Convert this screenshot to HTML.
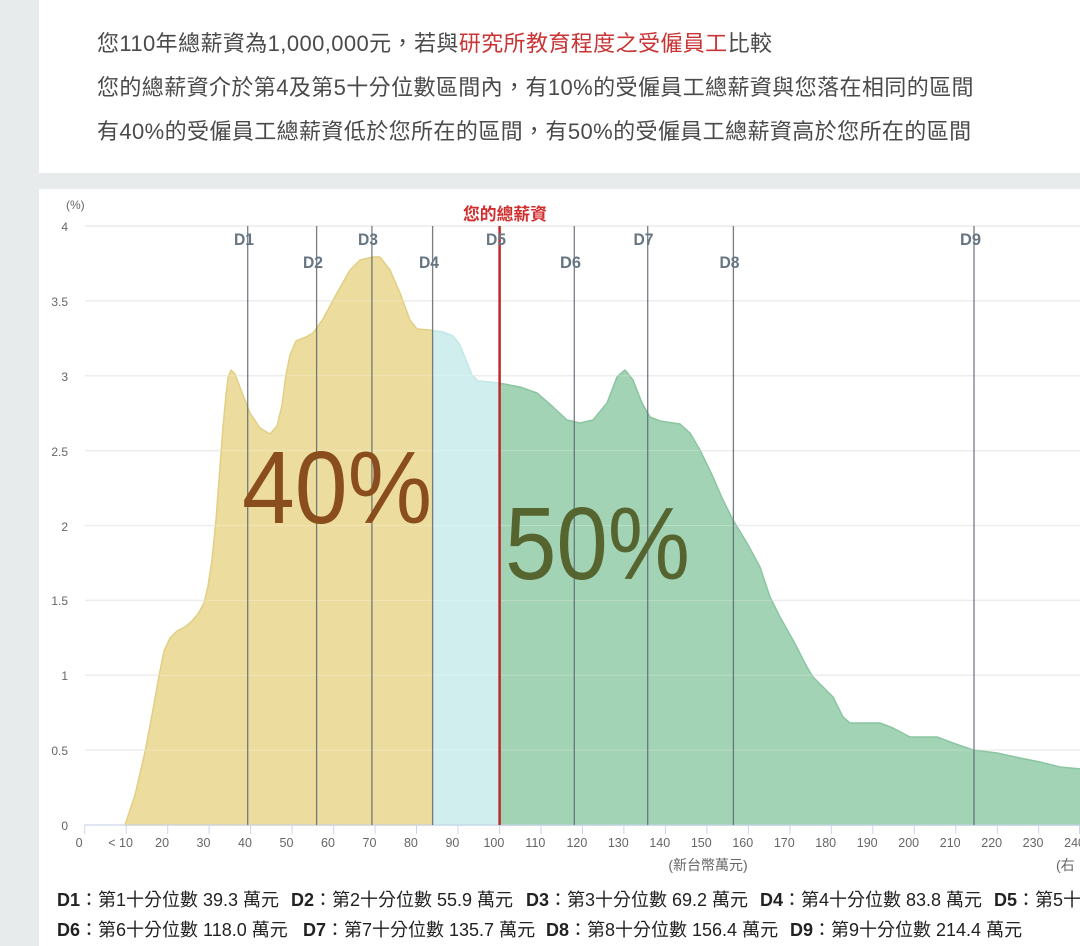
<!DOCTYPE html>
<html><head><meta charset="utf-8">
<style>
html,body{margin:0;padding:0;}
body{width:1080px;height:946px;overflow:hidden;background:#e7ebec;position:relative;font-family:"Liberation Sans","Noto Sans CJK TC",sans-serif;}
.card1{position:absolute;left:39px;top:0;width:1041px;height:173px;background:#fff;}
.card2{position:absolute;left:39px;top:189px;width:1041px;height:757px;background:#fff;}
.tl{position:absolute;left:97px;font-size:22px;color:#4a4a4a;white-space:nowrap;line-height:30px;letter-spacing:0.4px;}
.red{color:#c93434;}
.lg{position:absolute;font-size:18px;color:#222;white-space:nowrap;line-height:24px;}
.lg b{font-weight:bold;}
svg{position:absolute;left:0;top:0;}
</style></head><body>
<div class="card1"></div>
<div class="card2"></div>
<div class="tl" style="top:29px;">您110年總薪資為1,000,000元，若與<span class="red">研究所教育程度之受僱員工</span>比較</div>
<div class="tl" style="top:73px;">您的總薪資介於第4及第5十分位數區間內，有10%的受僱員工總薪資與您落在相同的區間</div>
<div class="tl" style="top:117px;">有40%的受僱員工總薪資低於您所在的區間，有50%的受僱員工總薪資高於您所在的區間</div>

<svg width="1080" height="946" viewBox="0 0 1080 946" xmlns="http://www.w3.org/2000/svg" font-family="Liberation Sans, Noto Sans CJK TC, sans-serif">
  <defs>
    <clipPath id="cy"><rect x="0" y="0" width="432.4" height="946"/></clipPath>
    <clipPath id="cc"><rect x="432.4" y="0" width="67.1" height="946"/></clipPath>
    <clipPath id="cg"><rect x="499.5" y="0" width="600" height="946"/></clipPath>
  </defs>
  <g stroke="#e6e6e6" stroke-width="1.2">
    <line x1="85" y1="226" x2="1080" y2="226"/>
    <line x1="85" y1="300.9" x2="1080" y2="300.9"/>
    <line x1="85" y1="375.75" x2="1080" y2="375.75"/>
    <line x1="85" y1="450.6" x2="1080" y2="450.6"/>
    <line x1="85" y1="525.5" x2="1080" y2="525.5"/>
    <line x1="85" y1="600.4" x2="1080" y2="600.4"/>
    <line x1="85" y1="675.25" x2="1080" y2="675.25"/>
    <line x1="85" y1="750.1" x2="1080" y2="750.1"/>
  </g>
  <g id="areas">
    <path clip-path="url(#cy)" fill="#ecdd9e" stroke="#e2cf86" stroke-width="1.5" stroke-linejoin="round" d="M125,825 L135,795 L145,752 L152,715 L159,676 L164,651 L170,638 L177,631 L185,627 L192,621 L198,614 L204,603 L208,586 L212,560 L216,520 L219,480 L223,427 L226,395 L228,378 L231,370 L235,374 L241,390 L250,413 L260,428 L270,434 L277,426 L282,405 L286,375 L290,355 L296,341 L306,337 L313,333 L323,319 L337,293 L350,270 L360,260 L373,257 L380,257 L390,270 L400,293 L410,320 L417,329 L430,330 L443,332 L453,336 L460,345 L466,360 L472,375 L478,381 L490,382 L499,383 L520,387 L537,393 L553,407 L567,420 L580,423 L593,420 L607,403 L617,377 L625,370 L633,380 L642,403 L650,417 L660,421 L680,424 L690,433 L700,450 L713,477 L723,500 L733,520 L747,543 L760,567 L770,597 L780,617 L793,640 L807,667 L813,677 L823,687 L833,697 L843,717 L850,723 L880,723 L893,728 L910,737 L937,737 L953,743 L973,750 L997,753 L1020,758 L1040,762 L1060,767 L1082,769 L1082,825 Z"/>
    <path clip-path="url(#cc)" fill="#d0eeee" stroke="#c2e8e8" stroke-width="1.5" stroke-linejoin="round" d="M125,825 L135,795 L145,752 L152,715 L159,676 L164,651 L170,638 L177,631 L185,627 L192,621 L198,614 L204,603 L208,586 L212,560 L216,520 L219,480 L223,427 L226,395 L228,378 L231,370 L235,374 L241,390 L250,413 L260,428 L270,434 L277,426 L282,405 L286,375 L290,355 L296,341 L306,337 L313,333 L323,319 L337,293 L350,270 L360,260 L373,257 L380,257 L390,270 L400,293 L410,320 L417,329 L430,330 L443,332 L453,336 L460,345 L466,360 L472,375 L478,381 L490,382 L499,383 L520,387 L537,393 L553,407 L567,420 L580,423 L593,420 L607,403 L617,377 L625,370 L633,380 L642,403 L650,417 L660,421 L680,424 L690,433 L700,450 L713,477 L723,500 L733,520 L747,543 L760,567 L770,597 L780,617 L793,640 L807,667 L813,677 L823,687 L833,697 L843,717 L850,723 L880,723 L893,728 L910,737 L937,737 L953,743 L973,750 L997,753 L1020,758 L1040,762 L1060,767 L1082,769 L1082,825 Z"/>
    <path clip-path="url(#cg)" fill="#a2d3b5" stroke="#8cc5a2" stroke-width="1.5" stroke-linejoin="round" d="M125,825 L135,795 L145,752 L152,715 L159,676 L164,651 L170,638 L177,631 L185,627 L192,621 L198,614 L204,603 L208,586 L212,560 L216,520 L219,480 L223,427 L226,395 L228,378 L231,370 L235,374 L241,390 L250,413 L260,428 L270,434 L277,426 L282,405 L286,375 L290,355 L296,341 L306,337 L313,333 L323,319 L337,293 L350,270 L360,260 L373,257 L380,257 L390,270 L400,293 L410,320 L417,329 L430,330 L443,332 L453,336 L460,345 L466,360 L472,375 L478,381 L490,382 L499,383 L520,387 L537,393 L553,407 L567,420 L580,423 L593,420 L607,403 L617,377 L625,370 L633,380 L642,403 L650,417 L660,421 L680,424 L690,433 L700,450 L713,477 L723,500 L733,520 L747,543 L760,567 L770,597 L780,617 L793,640 L807,667 L813,677 L823,687 L833,697 L843,717 L850,723 L880,723 L893,728 L910,737 L937,737 L953,743 L973,750 L997,753 L1020,758 L1040,762 L1060,767 L1082,769 L1082,825 Z"/>
  </g>
  <g stroke="#ffffff" stroke-opacity="0.25" stroke-width="1">
    <line x1="85" y1="300.9" x2="1080" y2="300.9"/>
    <line x1="85" y1="375.75" x2="1080" y2="375.75"/>
    <line x1="85" y1="450.6" x2="1080" y2="450.6"/>
    <line x1="85" y1="525.5" x2="1080" y2="525.5"/>
    <line x1="85" y1="600.4" x2="1080" y2="600.4"/>
    <line x1="85" y1="675.25" x2="1080" y2="675.25"/>
    <line x1="85" y1="750.1" x2="1080" y2="750.1"/>
  </g>
  <line x1="84.7" y1="825" x2="1080" y2="825" stroke="#ccd6eb" stroke-width="1.2"/>
  <path stroke="#ccd6eb" stroke-width="1" fill="none" d="M84.7,825V834 M126.2,825V834 M167.7,825V834 M209.1,825V834 M250.6,825V834 M292.1,825V834 M333.6,825V834 M375.1,825V834 M416.5,825V834 M458,825V834 M499.5,825V834 M541,825V834 M582.5,825V834 M623.9,825V834 M665.4,825V834 M706.9,825V834 M748.4,825V834 M789.9,825V834 M831.3,825V834 M872.8,825V834 M914.3,825V834 M955.8,825V834 M997.3,825V834 M1038.7,825V834 M1079.5,825V834"/>
  <g stroke="#5d6771" stroke-width="1.3" stroke-opacity="0.85">
    <line x1="247.7" y1="226" x2="247.7" y2="825"/>
    <line x1="316.6" y1="226" x2="316.6" y2="825"/>
    <line x1="371.9" y1="226" x2="371.9" y2="825"/>
    <line x1="432.6" y1="226" x2="432.6" y2="825"/>
    <line x1="574.3" y1="226" x2="574.3" y2="825"/>
    <line x1="647.7" y1="226" x2="647.7" y2="825"/>
    <line x1="733.4" y1="226" x2="733.4" y2="825"/>
    <line x1="974" y1="226" x2="974" y2="825"/>
  </g>
  <line x1="499.6" y1="226" x2="499.6" y2="825" stroke="#c0282c" stroke-width="2.5"/>
  <g font-size="17" font-weight="bold" fill="#677583">
    <text x="234" y="245" textLength="20" lengthAdjust="spacingAndGlyphs">D1</text>
    <text x="303" y="268" textLength="20" lengthAdjust="spacingAndGlyphs">D2</text>
    <text x="358" y="245" textLength="20" lengthAdjust="spacingAndGlyphs">D3</text>
    <text x="419" y="268" textLength="20" lengthAdjust="spacingAndGlyphs">D4</text>
    <text x="486" y="245" textLength="20" lengthAdjust="spacingAndGlyphs">D5</text>
    <text x="560" y="268" textLength="21" lengthAdjust="spacingAndGlyphs">D6</text>
    <text x="633.5" y="245" textLength="20" lengthAdjust="spacingAndGlyphs">D7</text>
    <text x="719.5" y="268" textLength="20" lengthAdjust="spacingAndGlyphs">D8</text>
    <text x="960" y="245" textLength="21" lengthAdjust="spacingAndGlyphs">D9</text>
  </g>
  <text x="463" y="220" font-size="17" font-weight="bold" fill="#d12e2e" textLength="84" lengthAdjust="spacingAndGlyphs">您的總薪資</text>
  <text x="242" y="523" font-size="103" fill="#8a4d1d" textLength="190" lengthAdjust="spacingAndGlyphs">40%</text>
  <text x="505" y="579" font-size="103" fill="#566430" textLength="185" lengthAdjust="spacingAndGlyphs">50%</text>
  <g font-size="12" fill="#666" text-anchor="end">
    <text x="68" y="231">4</text>
    <text x="68" y="306">3.5</text>
    <text x="68" y="381">3</text>
    <text x="68" y="456">2.5</text>
    <text x="68" y="531">2</text>
    <text x="68" y="605">1.5</text>
    <text x="68" y="680">1</text>
    <text x="68" y="755">0.5</text>
    <text x="68" y="830">0</text>
  </g>
  <text x="66" y="209" font-size="12" fill="#666">(%)</text>
  <g font-size="12.5" fill="#666" text-anchor="middle">
    <text x="79.1" y="847">0</text>
    <text x="120.6" y="847">&lt; 10</text>
    <text x="162.1" y="847">20</text>
    <text x="203.5" y="847">30</text>
    <text x="245" y="847">40</text>
    <text x="286.5" y="847">50</text>
    <text x="328" y="847">60</text>
    <text x="369.5" y="847">70</text>
    <text x="410.9" y="847">80</text>
    <text x="452.4" y="847">90</text>
    <text x="493.9" y="847">100</text>
    <text x="535.4" y="847">110</text>
    <text x="576.9" y="847">120</text>
    <text x="618.3" y="847">130</text>
    <text x="659.8" y="847">140</text>
    <text x="701.3" y="847">150</text>
    <text x="742.8" y="847">160</text>
    <text x="784.3" y="847">170</text>
    <text x="825.7" y="847">180</text>
    <text x="867.2" y="847">190</text>
    <text x="908.7" y="847">200</text>
    <text x="950.2" y="847">210</text>
    <text x="991.7" y="847">220</text>
    <text x="1033.1" y="847">230</text>
    <text x="1074.6" y="847">240</text>
  </g>
  <text x="708" y="870" font-size="14" fill="#666" text-anchor="middle">(新台幣萬元)</text>
  <text x="1056" y="870" font-size="14" fill="#666">(右</text>
</svg>

<div class="lg" style="left:57px;top:888px;"><b>D1</b>：第1十分位數 39.3 萬元</div>
<div class="lg" style="left:291px;top:888px;"><b>D2</b>：第2十分位數 55.9 萬元</div>
<div class="lg" style="left:526px;top:888px;"><b>D3</b>：第3十分位數 69.2 萬元</div>
<div class="lg" style="left:760px;top:888px;"><b>D4</b>：第4十分位數 83.8 萬元</div>
<div class="lg" style="left:994px;top:888px;"><b>D5</b>：第5十</div>
<div class="lg" style="left:57px;top:918px;"><b>D6</b>：第6十分位數 118.0 萬元</div>
<div class="lg" style="left:303px;top:918px;"><b>D7</b>：第7十分位數 135.7 萬元</div>
<div class="lg" style="left:546px;top:918px;"><b>D8</b>：第8十分位數 156.4 萬元</div>
<div class="lg" style="left:790px;top:918px;"><b>D9</b>：第9十分位數 214.4 萬元</div>
</body></html>
